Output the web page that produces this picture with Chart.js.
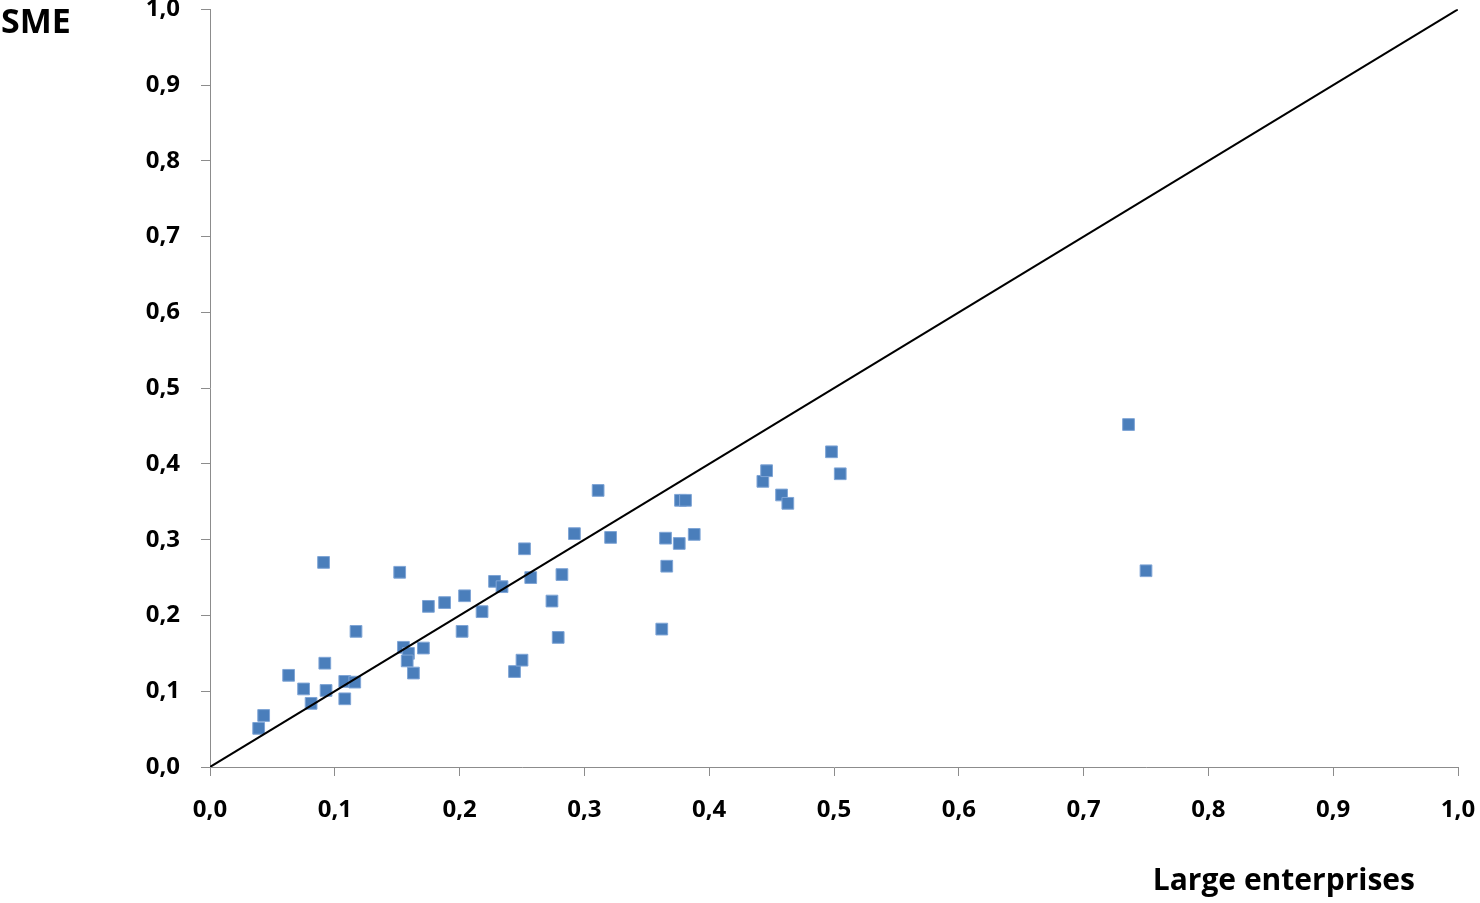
<!DOCTYPE html>
<html>
<head>
<meta charset="utf-8">
<script src="https://cdn.jsdelivr.net/npm/chart.js@4/dist/chart.umd.min.js"></script>
<style>
  html, body { margin: 0; padding: 0; background: #fff; }
  #wrap { width: 1480px; height: 903px; position: relative; }
</style>
</head>
<body>
<div id="wrap"><canvas id="c" width="1480" height="903"></canvas></div>
<script>
// Data
const largeEnterprises = [0.039,0.043,0.063,0.075,0.081,0.091,0.092,0.093,0.108,0.108,0.116,0.117,
  0.152,0.155,0.159,0.158,0.163,0.171,0.175,0.188,0.202,0.204,0.218,0.228,0.234,0.244,0.250,0.252,
  0.257,0.274,0.279,0.282,0.292,0.311,0.321,0.362,0.365,0.366,0.376,0.377,0.381,0.388,0.443,0.446,
  0.458,0.463,0.498,0.505,0.736,0.750];
const sme = [0.051,0.068,0.121,0.103,0.084,0.270,0.137,0.101,0.113,0.090,0.112,0.179,
  0.257,0.158,0.150,0.140,0.124,0.157,0.212,0.217,0.179,0.226,0.205,0.245,0.238,0.126,0.141,0.288,
  0.250,0.219,0.171,0.254,0.308,0.365,0.303,0.182,0.302,0.265,0.295,0.352,0.352,0.307,0.377,0.391,
  0.359,0.348,0.416,0.387,0.452,0.259];
const diagonalX = [0, 1];
const diagonalY = [0, 1];
const xTitle = 'Large enterprises';
const yTitle = 'SME';

const fmt = v => Number(v).toFixed(1).replace('.', ',');
const tickFont = { family: '"Open Sans", "DejaVu Sans", sans-serif', size: 24, weight: 'bold' };

const titles = {
  id: 'titles',
  afterDraw(chart) {
    const ctx = chart.ctx;
    ctx.save();
    ctx.fillStyle = '#000';
    ctx.font = 'bold 34px "Open Sans", "DejaVu Sans", sans-serif';
    ctx.textBaseline = 'middle';
    ctx.textAlign = 'left';
    ctx.fillText(yTitle, 1, 23);
    ctx.font = 'bold 30px "Open Sans", "DejaVu Sans", sans-serif';
    ctx.textAlign = 'right';
    ctx.fillText(xTitle, 1415, 881);
    ctx.restore();
  }
};

new Chart(document.getElementById('c'), {
  type: 'scatter',
  data: {
    datasets: [
      {
        type: 'line',
        data: diagonalX.map((x, i) => ({ x, y: diagonalY[i] })),
        borderColor: '#000',
        borderWidth: 2,
        pointRadius: 0,
        fill: false,
        order: 0
      },
      {
        data: largeEnterprises.map((x, i) => ({ x, y: sme[i] })),
        pointStyle: 'rect',
        pointRadius: 8.3,
        backgroundColor: '#4a7ebb',
        borderColor: '#7fa5d6',
        borderWidth: 1,
        order: 1
      }
    ]
  },
  options: {
    responsive: false,
    animation: false,
    layout: { padding: { left: 0, right: 22, top: 8, bottom: 0 } },
    plugins: { legend: { display: false }, tooltip: { enabled: false } },
    scales: {
      x: {
        type: 'linear', min: 0, max: 1,
        ticks: { stepSize: 0.1, callback: fmt, color: '#000', font: tickFont, padding: 20, maxRotation: 0 },
        grid: { drawOnChartArea: false, drawTicks: true, tickLength: 9, color: '#8c8c8c', lineWidth: 1 },
        border: { color: '#8c8c8c', width: 1 },
        afterFit(s) { s.height = 136; s.paddingLeft = 0; s.paddingRight = 0; }
      },
      y: {
        type: 'linear', min: 0, max: 1,
        ticks: { stepSize: 0.1, callback: fmt, color: '#000', font: tickFont, padding: 21 },
        grid: { drawOnChartArea: false, drawTicks: true, tickLength: 9, color: '#8c8c8c', lineWidth: 1 },
        border: { color: '#8c8c8c', width: 1 },
        afterFit(s) { s.width = 210; s.paddingTop = 0; s.paddingBottom = 0; }
      }
    }
  },
  plugins: [titles]
});
</script>
</body>
</html>
